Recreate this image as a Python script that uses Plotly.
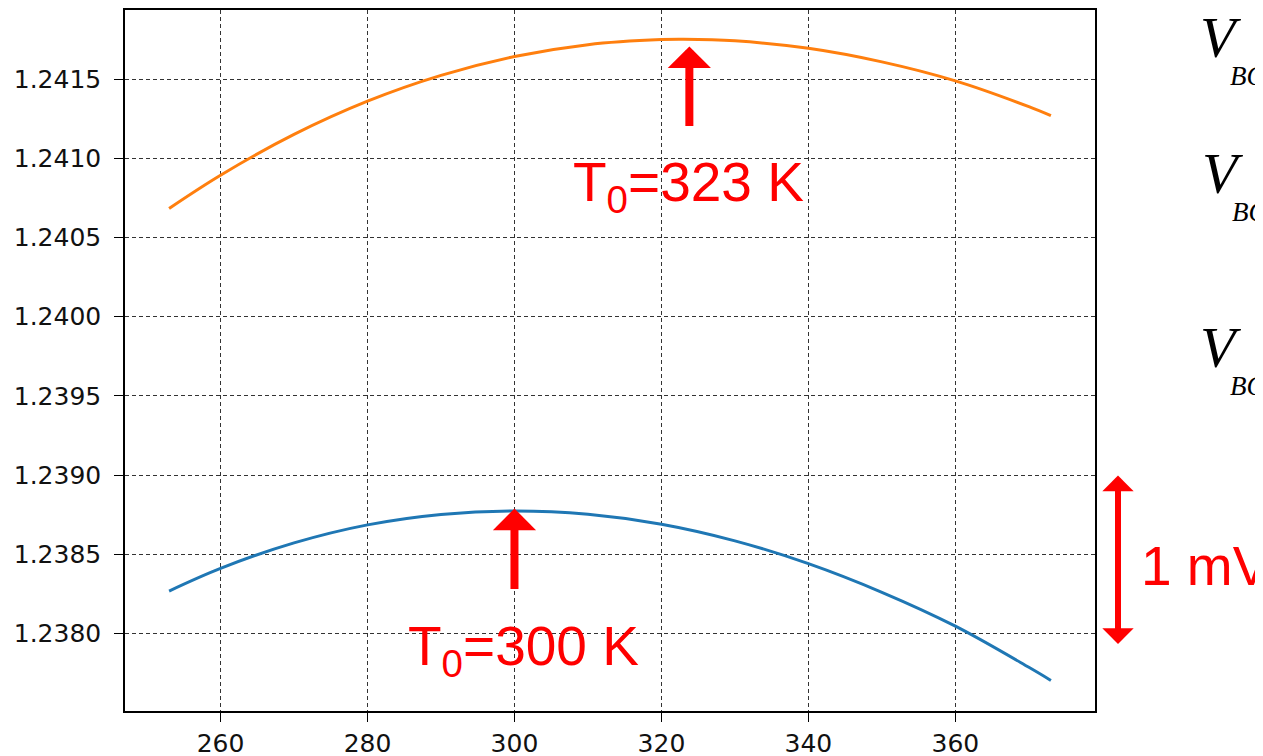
import plotly.graph_objects as go

# ---- data ----
T_300 = [253, 260, 270, 280, 290, 300, 310, 320, 330, 340, 350, 360, 370, 373]
V_300 = [1.238267, 1.238410, 1.238571, 1.238685, 1.238751, 1.238773, 1.238752,
         1.238689, 1.238584, 1.238440, 1.238259, 1.238045, 1.237785, 1.237702]

T_323 = [253, 260, 270, 280, 290, 300, 310, 320, 323, 330, 340, 350, 360, 370, 373]
V_323 = [1.240684, 1.240894, 1.241152, 1.241362, 1.241525, 1.241644, 1.241719,
         1.241751, 1.241753, 1.241743, 1.241696, 1.241610, 1.241490, 1.241327, 1.241270]

x_ticks = [260, 280, 300, 320, 340, 360]
y_ticks = [1.2380, 1.2385, 1.2390, 1.2395, 1.2400, 1.2405, 1.2410, 1.2415]
y_tick_text = ["%.4f" % v for v in y_ticks]

T0_labels = ["T<sub>0</sub>=300 K", "T<sub>0</sub>=323 K"]

# ---- layout geometry (page has an 8px body margin) ----
OFF = 8
W, H = 1263 - OFF, 756 - OFF
L, TOP = 125 - OFF, 2
R = W - (1095 - OFF)
B = H - (711 - OFF)
pw, ph = W - L - R, H - TOP - B


def px_x(p):
    return (p - OFF - L) / pw


def px_y(p):
    return (H - B - (p - OFF)) / ph


fig = go.Figure()
fig.add_trace(go.Scatter(x=T_300, y=V_300, mode="lines",
                         line=dict(color="#1f77b4", width=3, shape="spline"), showlegend=False))
fig.add_trace(go.Scatter(x=T_323, y=V_323, mode="lines",
                         line=dict(color="#ff7f0e", width=3, shape="spline"), showlegend=False))

axis_common = dict(
    showline=True, linecolor="black", linewidth=1.5, mirror=True, automargin=False,
    ticks="outside", ticklen=9, tickwidth=1.2, tickcolor="black",
    showgrid=True, gridcolor="#333333", gridwidth=1, griddash="4px,3px",
    zeroline=False,
    tickfont=dict(family="DejaVu Sans", size=25, color="#111"),
)
fig.update_xaxes(range=[247, 379], tickvals=x_ticks, ticklabelstandoff=0, **axis_common)
fig.update_yaxes(range=[1.237509, 1.241938], tickvals=y_ticks, ticktext=y_tick_text,
                 ticklabelstandoff=8, **axis_common)

red = "#ff0000"
ann = []
# peak arrows
ann.append(dict(x=323.8, y=1.241708, xref="x", yref="y", ax=0, ay=81, axref="pixel", ayref="pixel",
                text="", showarrow=True, arrowhead=1, arrowwidth=8, arrowsize=0.9, arrowcolor=red))
ann.append(dict(x=300, y=1.238788, xref="x", yref="y", ax=0, ay=82, axref="pixel", ayref="pixel",
                text="", showarrow=True, arrowhead=1, arrowwidth=8, arrowsize=0.9, arrowcolor=red))
# T0 labels
ann.append(dict(x=px_x(688), y=px_y(186), xref="paper", yref="paper", text=T0_labels[1],
                showarrow=False, xanchor="center", yanchor="middle",
                font=dict(family="Liberation Sans", size=55, color=red)))
ann.append(dict(x=px_x(523), y=px_y(650), xref="paper", yref="paper", text=T0_labels[0],
                showarrow=False, xanchor="center", yanchor="middle",
                font=dict(family="Liberation Sans", size=55, color=red)))
# 1 mV double arrow
ann.append(dict(x=px_x(1118), y=px_y(644), xref="paper", yref="paper", ax=0, ay=-170,
                axref="pixel", ayref="pixel", text="", showarrow=True, arrowhead=1, startarrowhead=1,
                arrowside="end+start", arrowwidth=6, arrowsize=0.87, startarrowsize=0.87, arrowcolor=red))
ann.append(dict(x=px_x(1139), y=px_y(566), xref="paper", yref="paper", text="1 mV",
                showarrow=False, xanchor="left", yanchor="middle",
                font=dict(family="Liberation Sans", size=55, color=red)))
# V_BG labels on the right (cut off by the figure edge)
for vx, vtop in [(1198, 17), (1200, 153), (1198, 327)]:
    ann.append(dict(x=px_x(vx), y=px_y(vtop - 14), xref="paper", yref="paper", text="<i>V</i>",
                    showarrow=False, xanchor="left", yanchor="top",
                    font=dict(family="Liberation Serif", size=58, color="black")))
    ann.append(dict(x=px_x(vx + 30), y=px_y(vtop + 42), xref="paper", yref="paper", text="<i>BG</i>",
                    showarrow=False, xanchor="left", yanchor="top",
                    font=dict(family="Liberation Serif", size=27, color="black")))

fig.update_layout(
    width=W, height=H, margin=dict(l=L, r=R, t=TOP, b=B, pad=0),
    plot_bgcolor="white", paper_bgcolor="white",
    annotations=ann, showlegend=False,
)
fig.write_html("out.html")
